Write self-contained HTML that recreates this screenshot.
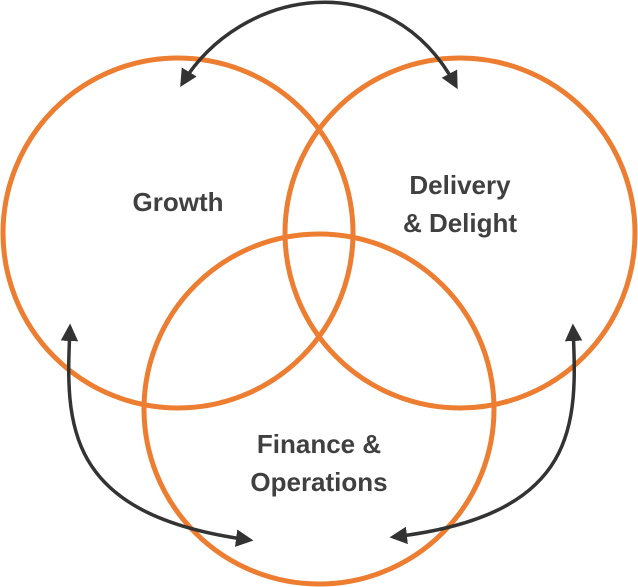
<!DOCTYPE html>
<html><head><meta charset="utf-8"><style>
html,body{margin:0;padding:0;background:#fff;}
svg{display:block;}
text{font-family:"Liberation Sans",sans-serif;font-weight:bold;font-size:26px;fill:#404040;text-anchor:middle;}
</style></head><body>
<svg width="638" height="587" viewBox="0 0 638 587" xmlns="http://www.w3.org/2000/svg">
<defs>
<marker id="ah" viewBox="0 0 10 10" refX="8" refY="5" markerWidth="5" markerHeight="5" orient="auto-start-reverse">
<path d="M0,0 L10,5 L0,10 z" fill="#333"/>
</marker>
</defs>
<g fill="none" stroke="#ED7D31" stroke-width="5">
<circle cx="178" cy="233" r="175"/>
<circle cx="460" cy="233" r="175"/>
<circle cx="319" cy="409" r="175"/>
</g>
<g fill="none" stroke="#333" stroke-width="3.5" marker-start="url(#ah)" marker-end="url(#ah)">
<path d="M182,84 C 240,-12 390,-38 456,86"/>
<path d="M70,327 C 66,420 60,515 250,540"/>
<path d="M573,327 C 577,420 583,515 393,537"/>
</g>
<text x="178" y="211">Growth</text>
<text x="460" y="194">Delivery</text>
<text x="460" y="232">&amp; Delight</text>
<text x="319" y="453">Finance &amp;</text>
<text x="319" y="491">Operations</text>
</svg>
</body></html>
